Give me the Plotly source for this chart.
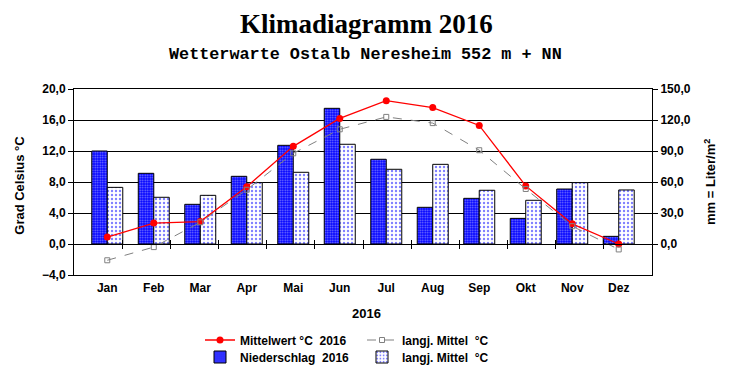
import plotly.graph_objects as go

months = ["Jan", "Feb", "Mar", "Apr", "Mai", "Jun", "Jul", "Aug", "Sep", "Okt", "Nov", "Dez"]
temp_2016 = [0.9, 2.7, 2.9, 7.4, 12.6, 16.2, 18.5, 17.6, 15.3, 7.5, 2.6, 0.0]
temp_mean = [-2.1, -0.4, 2.8, 7.0, 11.7, 14.8, 16.4, 15.6, 12.1, 7.1, 2.3, -0.7]
precip_2016 = [90.0, 68.4, 38.4, 65.5, 95.5, 131.3, 82.0, 35.5, 44.2, 24.8, 53.2, 7.4]
precip_mean = [54.8, 45.2, 47.1, 59.4, 69.4, 96.5, 72.3, 77.1, 52.0, 42.3, 59.4, 52.3]
temp_ticks = [-4, 0, 4, 8, 12, 16, 20]
precip_ticks = [0, 30, 60, 90, 120, 150]

FONT = "Liberation Sans, Arial, sans-serif"
boundaries = [i + 0.5 for i in range(len(months) - 1)]

fig = go.Figure()

# lines (temperature) on overlaying axis y2 so they draw above the bars
fig.add_trace(go.Scatter(
    x=months, y=temp_2016, name="Mittelwert °C  2016", yaxis="y2",
    mode="lines+markers", line=dict(color="#ff0000", width=1.3),
    marker=dict(color="#ff0000", size=7, symbol="circle"), legend="legend"))
fig.add_trace(go.Scatter(
    x=months, y=temp_mean, name="langj. Mittel  °C", yaxis="y2",
    mode="lines+markers", line=dict(color="#808080", width=1, dash="dash"),
    marker=dict(color="#808080", size=5, symbol="square-open"), legend="legend"))

fig.add_trace(go.Bar(
    x=months, y=precip_2016, name="Niederschlag  2016", yaxis="y",
    marker=dict(color="#0000ff", line=dict(color="black", width=1),
                pattern=dict(shape=".", bgcolor="#0000ff", fgcolor="white",
                             size=2.5, solidity=0.4, fillmode="overlay")),
    legend="legend2"))
fig.add_trace(go.Bar(
    x=months, y=precip_mean, name="langj. Mittel  °C", yaxis="y",
    marker=dict(color="white", line=dict(color="black", width=1),
                pattern=dict(shape=".", bgcolor="white", fgcolor="#0000ff",
                             size=4, solidity=0.28, fillmode="overlay")),
    legend="legend2"))

# empty traces that bring up the zero-line axes
fig.add_trace(go.Scatter(x=[], y=[], xaxis="x2", yaxis="y", showlegend=False))
fig.add_trace(go.Scatter(x=[], y=[], xaxis="x3", yaxis="y", showlegend=False))

zero_pos = (0 - temp_ticks[0]) / (temp_ticks[-1] - temp_ticks[0])

W, H = 724, 372  # page body has an 8px margin, so the figure is 8px smaller and offset

fig.update_layout(
    width=W, height=H,
    margin=dict(l=66, r=80, t=81, b=105),
    paper_bgcolor="white", plot_bgcolor="white",
    separators=",.",
    barmode="group", bargap=1/3, bargroupgap=0,
    font=dict(family=FONT, size=12, color="black"),
    xaxis=dict(type="category", categoryarray=months, showline=True, mirror=True,
               linecolor="black", linewidth=1, ticks="", showgrid=False, automargin=False,
               tickfont=dict(family=FONT, size=12, weight="bold"), ticklabelstandoff=2),
    xaxis2=dict(overlaying="x", anchor="free", position=zero_pos, range=[-0.5, 11.5],
                tickvals=boundaries, ticks="outside", ticklen=4, tickcolor="black",
                showline=True, linecolor="black", linewidth=1, automargin=False,
                showticklabels=False, showgrid=False, zeroline=False),
    xaxis3=dict(overlaying="x", anchor="free", position=zero_pos, range=[-0.5, 11.5],
                tickvals=boundaries, ticks="inside", ticklen=4, tickcolor="black",
                showline=False, showticklabels=False, showgrid=False, zeroline=False,
                automargin=False),
    yaxis=dict(side="right", range=[-30, 150], tickvals=precip_ticks, tickformat=".1f",
               ticks="outside", ticklen=5, tickcolor="black", automargin=False,
               showline=True, linecolor="black", linewidth=1,
               showgrid=True, gridcolor="black", gridwidth=1, zeroline=False,
               tickfont=dict(family=FONT, size=12, weight="bold")),
    yaxis2=dict(overlaying="y", side="left", range=[temp_ticks[0], temp_ticks[-1]],
                tickvals=temp_ticks, tickformat=".1f", automargin=False,
                ticks="outside", ticklen=5, tickcolor="black",
                showline=True, linecolor="black", linewidth=1,
                showgrid=False, zeroline=False,
                tickfont=dict(family=FONT, size=12, weight="bold")),
    legend=dict(orientation="h", x=(200 - 74) / 578, xanchor="left",
                yref="container", y=1 - (340 - 8) / H, yanchor="middle", entrywidth=117,
                font=dict(family=FONT, size=12, weight="bold"), bgcolor="rgba(0,0,0,0)",
                itemwidth=30, tracegroupgap=0),
    legend2=dict(orientation="h", x=(200 - 74) / 578, xanchor="left",
                 yref="container", y=1 - (357 - 8) / H, yanchor="middle", entrywidth=117,
                 font=dict(family=FONT, size=12, weight="bold"), bgcolor="rgba(0,0,0,0)",
                 itemwidth=30, tracegroupgap=0),
    showlegend=True,
)

annotations = [
    dict(text="<b>Klimadiagramm 2016</b>", xref="paper", yref="paper",
         x=(366 - 74) / 578, y=(89 - 24) / 186 + 1, xanchor="center", yanchor="middle",
         showarrow=False, font=dict(family="Liberation Serif, Times New Roman, serif", size=27)),
    dict(text="Wetterwarte Ostalb Neresheim 552 m + NN", xref="paper", yref="paper",
         x=(365 - 74) / 578, y=(89 - 55) / 186 + 1, xanchor="center", yanchor="middle",
         showarrow=False, font=dict(family="Liberation Mono, Courier New, monospace", size=16.8,
                                    weight="bold")),
    dict(text="Grad Celsius °C", xref="paper", yref="paper", textangle=-90,
         x=(20 - 74) / 578, y=0.48, xanchor="center", yanchor="middle", showarrow=False,
         font=dict(family=FONT, size=13, weight="bold")),
    dict(text="mm = Liter/m<sup>2</sup>", xref="paper", yref="paper", textangle=-90,
         x=(710 - 74) / 578, y=0.5, xanchor="center", yanchor="middle", showarrow=False,
         font=dict(family=FONT, size=13, weight="bold")),
    dict(text="2016", xref="paper", yref="paper",
         x=(366 - 74) / 578, y=(275 - 313) / 186, xanchor="center", yanchor="middle",
         showarrow=False, font=dict(family=FONT, size=13, weight="bold")),
]
fig.update_layout(annotations=annotations)

fig.write_html("out.html")
